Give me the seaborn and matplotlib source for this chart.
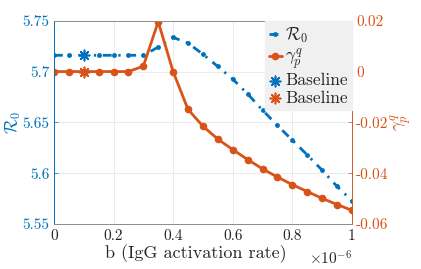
import numpy as np
import pandas as pd
import matplotlib
matplotlib.use("Agg")
import matplotlib.pyplot as plt
import seaborn as sns

# -----------------------------
# Data
# -----------------------------
b_scaled = [0.0, 0.05, 0.1, 0.15, 0.2, 0.25, 0.3, 0.35, 0.4, 0.45, 0.5,
            0.55, 0.6, 0.65, 0.7, 0.75, 0.8, 0.85, 0.9, 0.95, 1.0]

r0_values = [5.716, 5.716, 5.716, 5.716, 5.716, 5.716, 5.716, 5.724, 5.7336, 5.728, 5.717,
             5.705, 5.6926, 5.678, 5.662, 5.647, 5.6325, 5.618, 5.603, 5.587, 5.573]

gamma_values = [0.0, 0.0, 0.0, 0.0, 0.0, 0.0, 0.0021, 0.0196, 0.0, -0.0149, -0.0215,
                -0.0266, -0.0307, -0.0346, -0.0383, -0.0415, -0.0445, -0.0472, -0.0499, -0.0523, -0.0546]

baseline_b = [0.1]
baseline_r0 = [5.716]
baseline_gamma = [0.0]

x_ticks = [0, 0.2, 0.4, 0.6, 0.8, 1]
x_ticklabels = ["0", "0.2", "0.4", "0.6", "0.8", "1"]
left_ticks = [5.55, 5.6, 5.65, 5.7, 5.75]
left_ticklabels = ["5.55", "5.6", "5.65", "5.7", "5.75"]
right_ticks = [-0.06, -0.04, -0.02, 0, 0.02]
right_ticklabels = ["-0.06", "-0.04", "-0.02", "0", "0.02"]

df = pd.DataFrame({"b": b_scaled, "R0": r0_values, "gamma": gamma_values})

# -----------------------------
# Plot Settings
# -----------------------------
sns.set_style("white")
plt.rcParams["font.family"] = "serif"
plt.rcParams["font.serif"] = ["cmr10", "DejaVu Serif"]
plt.rcParams["mathtext.fontset"] = "cm"
plt.rcParams["axes.unicode_minus"] = False

blue = "#0072BD"
orange = "#D95319"

fig = plt.figure(figsize=(4.21, 2.69), dpi=100)
ax = fig.add_axes([0.128, 0.167, 0.708, 0.756])
ax2 = ax.twinx()

sns.lineplot(x="b", y="R0", data=df, ax=ax, color=blue,
             linewidth=2, marker="o", markersize=3.5, markeredgewidth=0,
             label=r"$\mathcal{R}_0$", legend=False)
ax.lines[-1].set_dashes((3.2, 2.4, 0.8, 2.4))
sns.lineplot(x="b", y="gamma", data=df, ax=ax2, color=orange, linestyle="-",
             linewidth=2, marker="o", markersize=5.5, markeredgewidth=0,
             label=r"$\gamma_p^q$", legend=False)

sns.scatterplot(x=baseline_b, y=baseline_r0, ax=ax, marker=(8, 2, 0),
                s=55, color=blue, linewidth=1.2, edgecolor=blue, label="Baseline",
                legend=False, zorder=5)
sns.scatterplot(x=baseline_b, y=baseline_gamma, ax=ax2, marker=(8, 2, 0),
                s=55, color=orange, linewidth=1.2, edgecolor=orange, label="Baseline",
                legend=False, zorder=5)

# -----------------------------
# Axes
# -----------------------------
ax.set_xlim(0, 1)
ax.set_xticks(x_ticks)
ax.set_xticklabels(x_ticklabels)
ax.set_ylim(5.55, 5.75)
ax.set_yticks(left_ticks)
ax.set_yticklabels(left_ticklabels)
ax2.set_ylim(-0.06, 0.02)
ax2.set_yticks(right_ticks)
ax2.set_yticklabels(right_ticklabels)

fig.text(0.836, 0.04, r"$\times 10^{-6}$", ha="right", va="center", fontsize=11, color="#262626")

ax.grid(True, color="#e6e6e6", linewidth=0.6)
ax.set_axisbelow(True)

ax.tick_params(axis="x", labelsize=11, colors="#262626", direction="in", length=3, width=0.5, pad=4)
ax.tick_params(axis="y", labelsize=11, colors=blue, direction="in", length=3, width=0.5, pad=3)
ax2.tick_params(axis="y", labelsize=11, colors=orange, direction="in", length=3, width=0.5, pad=3)

ax.set_xlabel("b (IgG activation rate)", fontsize=13, color="#262626", labelpad=3)
ax.xaxis.set_label_coords(0.475, -0.1, transform=ax.transAxes)
ax.xaxis.label.set_va("top")
ax.set_ylabel(r"$\mathcal{R}_0$", fontsize=12.5, color=blue, labelpad=0)
ax2.set_ylabel(r"$\gamma_p^q$", fontsize=12.5, color=orange, labelpad=0)

for a in (ax, ax2):
    for s in a.spines.values():
        s.set_linewidth(0.6)
        s.set_color("#8c8c8c")
ax2.spines["left"].set_color(blue)
ax2.spines["right"].set_color(orange)
ax.spines["left"].set_color(blue)

# -----------------------------
# Legend
# -----------------------------
h1, l1 = ax.get_legend_handles_labels()
h2, l2 = ax2.get_legend_handles_labels()
handles = [h1[0], h2[0], h1[1], h2[1]]
labels = [l1[0], l2[0], l1[1], l2[1]]
leg = ax2.legend(handles, labels, loc="upper right", fontsize=12.5, handlelength=0.7,
                 handletextpad=0.2, borderaxespad=0, borderpad=0.25, labelspacing=0.1,
                 frameon=True, fancybox=False, facecolor="#f0f0f0", edgecolor="#f0f0f0",
                 framealpha=1)

plt.savefig("out.png", dpi=100)
